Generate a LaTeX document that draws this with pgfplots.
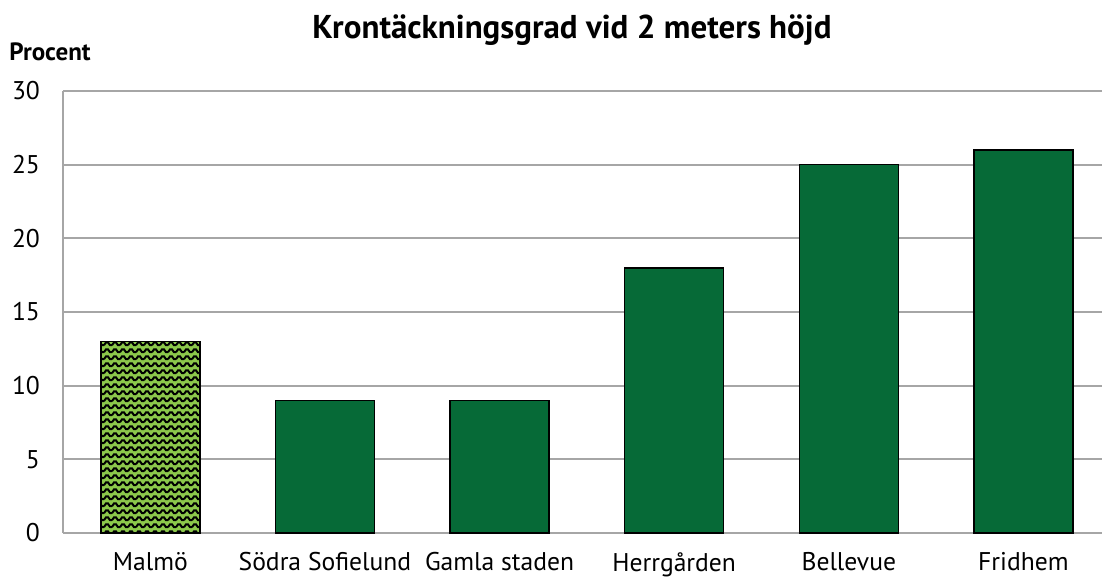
\documentclass[border=0pt]{standalone}
\usepackage{pgfplots}
\pgfplotsset{compat=1.18}
\usepackage{fontspec}
\setmainfont{PT Sans}
\usetikzlibrary{patterns}
\definecolor{dgreen}{HTML}{066A37}
\definecolor{lgreen}{HTML}{8CC84B}
\definecolor{gridgray}{HTML}{A6A6A6}
\pgfdeclarepatternformonly{zigzag}{\pgfqpoint{-1pt}{-1pt}}{\pgfqpoint{5pt}{4.5pt}}{\pgfqpoint{4pt}{3.5pt}}{%
  \pgfsetlinewidth{1pt}%
  \pgfpathmoveto{\pgfqpoint{0pt}{0.9pt}}%
  \pgfpathlineto{\pgfqpoint{1pt}{2.3pt}}%
  \pgfpathlineto{\pgfqpoint{2pt}{2.3pt}}%
  \pgfpathlineto{\pgfqpoint{3pt}{0.9pt}}%
  \pgfpathlineto{\pgfqpoint{4pt}{0.9pt}}%
  \pgfusepath{stroke}}
\begin{document}
\begin{tikzpicture}
\useasboundingbox (0,0) rectangle (551pt,289pt);
\begin{axis}[
  at={(31.5pt,22.5pt)}, anchor=south west,
  scale only axis, width=519.5pt, height=221pt,
  xmin=-0.5, xmax=5.45, ymin=0, ymax=30,
  ytick={0,5,...,30},
  xtick={0,...,5},
  xticklabels={Malmö,Södra Sofielund,Gamla staden,Herrgården,Bellevue,Fridhem},
  axis x line*=bottom, axis y line*=left,
  axis line style={gridgray, line width=1pt, -},
  major tick length=0pt,
  ymajorgrids, grid style={gridgray, line width=1pt},
  ticklabel style={font=\fontsize{12.8}{15}\selectfont},
  /pgf/number format/assume math mode=true,
  yticklabel style={xshift=-8pt},
  xticklabel style={yshift=-6.3pt},
  ybar, bar width=49.5pt, bar shift=0pt,
  clip=false,
]
\addplot[fill=lgreen, draw=black, line width=0.8pt, postaction={pattern=zigzag}] coordinates {(0,13)};
\addplot[fill=dgreen, draw=black, line width=0.8pt] coordinates {(1,9) (2,9) (3,18) (4,25) (5,26)};
\end{axis}
\node[font=\bfseries\fontsize{16.5}{19}\selectfont] at (286pt,274pt) {Krontäckningsgrad vid 2 meters höjd};
\node[font=\bfseries\fontsize{12.5}{14}\selectfont, anchor=west, inner sep=0pt] at (4.5pt,263pt) {Procent};
\end{tikzpicture}
\end{document}
